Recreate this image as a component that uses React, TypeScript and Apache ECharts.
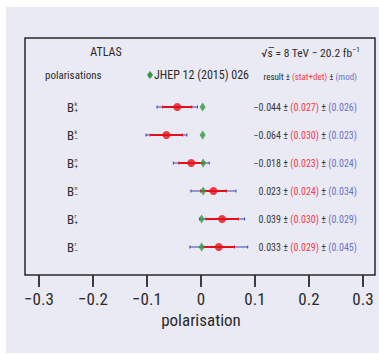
import React, { useEffect, useRef } from "react";
import * as echarts from "echarts";

const rowSup = ["k", "k", "n", "n", "r", "r"];
const rowSub = ["+", "−", "+", "−", "+", "−"];
const central = [-0.044, -0.064, -0.018, 0.023, 0.039, 0.033];
const statDet = [0.027, 0.03, 0.023, 0.024, 0.03, 0.029];
const modErr = [0.026, 0.023, 0.024, 0.034, 0.029, 0.045];
const prediction = [0.003, 0.003, 0.004, 0.004, 0.001, 0.001];
const xTicks = [-0.3, -0.2, -0.1, 0, 0.1, 0.2, 0.3];

const RED = "#e3101c";
const BLUE = "#3346b0";
const GREEN = "#2e9a3c";
const TXT = "#2a2a2a";
const FONT = "Roboto Condensed";

const fmt = (v: number) => (v < 0 ? "−" : "") + Math.abs(v).toFixed(3);

export default function App() {
  const ref = useRef<HTMLDivElement>(null);
  useEffect(() => {
    document.body.style.margin = "0";
    const chart = echarts.init(ref.current!, null, { renderer: "svg" });
    const errData = central.map((c, i) => [c, i, statDet[i], Math.sqrt(statDet[i] ** 2 + modErr[i] ** 2), modErr[i]]);
    chart.setOption({
      animation: false,
      backgroundColor: "#ffffff",
      grid: { left: 39, right: 16, top: 37, bottom: 79 },
      xAxis: {
        type: "value",
        position: "bottom",
        min: xTicks[0],
        max: xTicks[xTicks.length - 1],
        interval: 0.1,
        axisLine: { show: false, onZero: false },
        splitLine: { show: false },
        axisTick: { show: true, length: 12, lineStyle: { color: TXT, width: 1.8 } },
        axisLabel: {
          color: TXT,
          fontSize: 17,
          fontFamily: FONT,
          margin: 15,
          formatter: (v: number) => {
            const r = Math.round(v * 10) / 10;
            return r === 0 ? "0" : (r < 0 ? "−" : "") + Math.abs(r).toFixed(1);
          },
        },
        name: "polarisation",
        nameLocation: "middle",
        nameGap: 36,
        nameMoveOverlap: false,
        nameTextStyle: { color: TXT, fontSize: 17, fontFamily: FONT },
      },
      yAxis: { type: "value", inverse: true, min: -2.5, max: 6, show: false },
      graphic: [
        { type: "rect", z: -10, shape: { x: 6, y: 7, width: 373, height: 346 }, style: { fill: "#eaeaf5" } },
        { type: "rect", z: 5, shape: { x: 25, y: 38, width: 350, height: 237 }, style: { fill: "none", stroke: TXT, lineWidth: 1.5 } },
        { type: "text", x: 106, y: 52, style: { text: "ATLAS", fontSize: 12, fontFamily: FONT, fill: TXT, align: "center", verticalAlign: "middle" } },
        {
          type: "text", x: 360, y: 53,
          style: {
            text: "{r|√}{o|s}{t| = 8 TeV − 20.2 fb}{u|−1}",
            align: "right", verticalAlign: "middle",
            rich: {
              r: { fontSize: 11.5, fontFamily: FONT, fill: TXT },
              o: { fontSize: 11.5, fontFamily: FONT, fill: TXT },
              t: { fontSize: 11.5, fontFamily: FONT, fill: TXT },
              u: { fontSize: 8, fontFamily: FONT, fill: TXT, verticalAlign: "top", padding: [0, 0, 7, 0] },
            },
          },
        },
        { type: "line", shape: { x1: 268.5, y1: 47.5, x2: 274, y2: 47.5 }, style: { stroke: TXT, lineWidth: 0.8 } },
        { type: "text", x: 45, y: 75, style: { text: "polarisations", fontSize: 11, fontFamily: FONT, fill: TXT, verticalAlign: "middle" } },
        { type: "text", x: 154, y: 75, style: { text: "JHEP 12 (2015) 026", fontSize: 12, fontFamily: FONT, fill: TXT, verticalAlign: "middle" } },
        { type: "polygon", shape: { points: [[150, 71], [153, 75], [150, 79], [147, 75]] }, style: { fill: GREEN } },
        {
          type: "text", x: 357, y: 76.5,
          style: {
            text: "{n|result ± }{r|(stat+det)}{n| ± }{b|(mod)}",
            align: "right", verticalAlign: "middle",
            rich: {
              n: { fontSize: 9, fontFamily: FONT, fill: TXT },
              r: { fontSize: 9, fontFamily: FONT, fill: "#f0404c" },
              b: { fontSize: 9, fontFamily: FONT, fill: "#6a72c4" },
            },
          },
        },
      ],
      series: [
        {
          type: "custom",
          data: errData,
          z: 2,
          renderItem: (params: any, api: any) => {
            const v = api.value(0), r = api.value(1), s = api.value(2), t = api.value(3), m = api.value(4);
            const i = params.dataIndex;
            const c = api.coord([v, r]);
            const lo = api.coord([v - t, r]);
            const hi = api.coord([v + t, r]);
            const slo = api.coord([v - s, r]);
            const shi = api.coord([v + s, r]);
            const y = c[1];
            return {
              type: "group",
              children: [
                { type: "line", shape: { x1: lo[0], y1: y, x2: hi[0], y2: y }, style: { stroke: BLUE, lineWidth: 1.2 } },
                { type: "line", shape: { x1: lo[0], y1: y - 1.5, x2: lo[0], y2: y + 1.5 }, style: { stroke: BLUE, lineWidth: 1 } },
                { type: "line", shape: { x1: hi[0], y1: y - 1.5, x2: hi[0], y2: y + 1.5 }, style: { stroke: BLUE, lineWidth: 1 } },
                { type: "line", shape: { x1: slo[0], y1: y, x2: shi[0], y2: y }, style: { stroke: RED, lineWidth: 2 } },
                { type: "line", shape: { x1: slo[0], y1: y - 1.5, x2: slo[0], y2: y + 1.5 }, style: { stroke: RED, lineWidth: 1 } },
                { type: "line", shape: { x1: shi[0], y1: y - 1.5, x2: shi[0], y2: y + 1.5 }, style: { stroke: RED, lineWidth: 1 } },
                { type: "text", x: 67, y: y, style: { text: "B", fontSize: 13, fontFamily: FONT, fill: TXT, verticalAlign: "middle" } },
                { type: "text", x: 74.5, y: y - 4, style: { text: rowSup[i], fontSize: 6, fontFamily: FONT, fill: TXT, verticalAlign: "middle" } },
                { type: "text", x: 74.5, y: y + 4, style: { text: rowSub[i], fontSize: 7, fontFamily: FONT, fill: TXT, verticalAlign: "middle" } },
                {
                  type: "text", x: 357, y: y,
                  style: {
                    text: `{n|${fmt(v)} ± }{r|(${s.toFixed(3)})}{n| ± }{b|(${m.toFixed(3)})}`,
                    align: "right", verticalAlign: "middle",
                    rich: {
                      n: { fontSize: 10, fontFamily: FONT, fill: "#3a3a3a" },
                      r: { fontSize: 10, fontFamily: FONT, fill: "#f0404c" },
                      b: { fontSize: 10, fontFamily: FONT, fill: "#6a72c4" },
                    },
                  },
                },
              ],
            };
          },
        },
        {
          type: "scatter",
          z: 3,
          data: prediction.map((p, i) => [p, i]),
          symbol: "diamond",
          symbolSize: [6, 9],
          itemStyle: { color: GREEN },
        },
        {
          type: "scatter",
          z: 4,
          data: central.map((c, i) => [c, i]),
          symbol: "circle",
          symbolSize: 8,
          itemStyle: { color: RED },
        },
      ],
    });
    return () => chart.dispose();
  }, []);
  return <div ref={ref} style={{ width: 379, height: 354 }} />;
}
